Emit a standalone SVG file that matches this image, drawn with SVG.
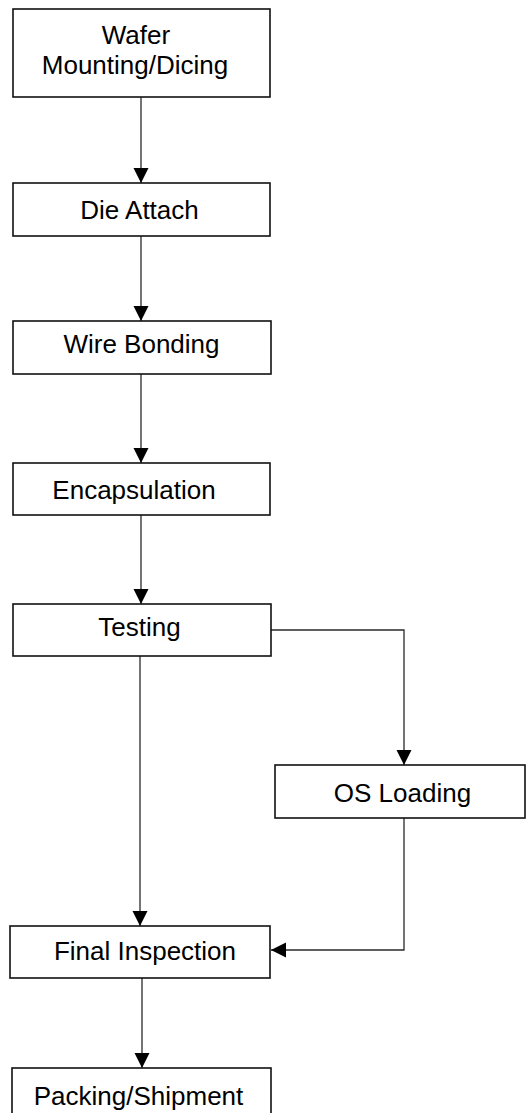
<svg xmlns="http://www.w3.org/2000/svg" width="526" height="1113" viewBox="0 0 526 1113">
<style>
.box{fill:#fff;stroke:#111;stroke-width:1.6}
.lbl{font-family:"Liberation Sans",Arial,sans-serif;font-size:26px;fill:#000;text-anchor:middle}
.con{fill:none;stroke:#2a2a2a;stroke-width:1.3}
</style>
<defs>
<marker id="ah" markerUnits="userSpaceOnUse" markerWidth="16" markerHeight="16" refX="15" refY="8" orient="auto">
<path d="M0,0.5 L15,8 L0,15.5 Z" fill="#000"/>
</marker>
</defs>
<rect width="526" height="1113" fill="#fff"/>
<g id="connectors">
<path class="con" d="M141,97 V183" marker-end="url(#ah)"/>
<path class="con" d="M141,236 V321" marker-end="url(#ah)"/>
<path class="con" d="M141,374 V463" marker-end="url(#ah)"/>
<path class="con" d="M141,515 V604" marker-end="url(#ah)"/>
<path class="con" d="M140,656 V926" marker-end="url(#ah)"/>
<path class="con" d="M271,630 H404 V765" marker-end="url(#ah)"/>
<path class="con" d="M404,818 V950 H271" marker-end="url(#ah)"/>
<path class="con" d="M142,978 V1068" marker-end="url(#ah)"/>
</g>
<g id="wafer">
<rect class="box" x="13" y="9" width="257" height="88"/>
<text class="lbl" x="136" y="43.5">Wafer</text>
<text class="lbl" x="135" y="74">Mounting/Dicing</text>
</g>
<g id="die-attach">
<rect class="box" x="13" y="183" width="257" height="53"/>
<text class="lbl" x="139.5" y="219">Die Attach</text>
</g>
<g id="wire-bonding">
<rect class="box" x="13" y="321" width="258" height="53"/>
<text class="lbl" x="141.5" y="353">Wire Bonding</text>
</g>
<g id="encapsulation">
<rect class="box" x="13" y="463" width="257" height="52"/>
<text class="lbl" x="134" y="499">Encapsulation</text>
</g>
<g id="testing">
<rect class="box" x="13" y="604" width="258" height="52"/>
<text class="lbl" x="139.5" y="636">Testing</text>
</g>
<g id="os-loading">
<rect class="box" x="275" y="765" width="250" height="53"/>
<text class="lbl" x="402.5" y="801.5">OS Loading</text>
</g>
<g id="final-inspection">
<rect class="box" x="10" y="926" width="260" height="52"/>
<text class="lbl" x="145" y="960">Final Inspection</text>
</g>
<g id="packing">
<rect class="box" x="12" y="1068" width="259" height="60"/>
<text class="lbl" x="138.5" y="1105">Packing/Shipment</text>
</g>
</svg>
